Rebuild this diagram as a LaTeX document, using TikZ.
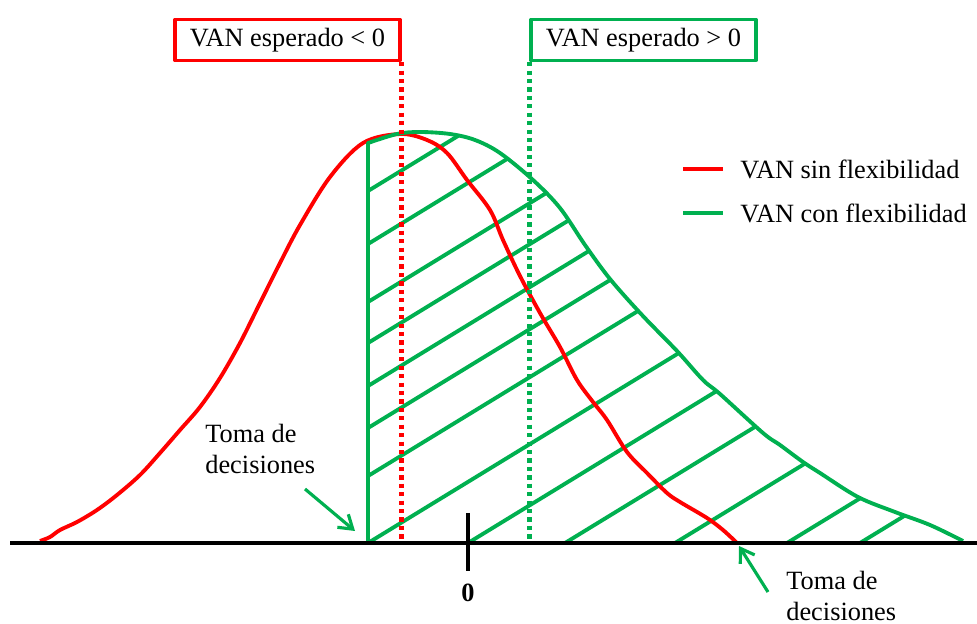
\documentclass[tikz,border=0pt]{standalone}
\usepackage{fontspec}
\setmainfont{Liberation Serif}
\usetikzlibrary{arrows.meta}
\definecolor{vanrojo}{RGB}{255,0,0}
\definecolor{vanverde}{RGB}{0,176,80}

\begin{document}
\begin{tikzpicture}[x=0.02cm, y=-0.02cm, font=\fontsize{15}{17.5}\selectfont, line join=round, >={Straight Barb[length=2.6mm,width=3.4mm]},
		curva/.style={line width=2.2pt},
		punteado/.style={line width=2.5pt, dash pattern=on 2.4pt off 2.4pt},
		caja/.style={draw, line width=1.8pt, minimum width=4.5cm, minimum height=0.82cm, inner sep=0pt},
		flecha/.style={->, vanverde, line width=1.8pt},
		texto/.style={align=left, anchor=north west, inner sep=0pt}]
	\useasboundingbox (0,0) rectangle (977,624);
	\path (10,543) coordinate (ejeI)
	(977,543) coordinate (ejeD)
	(368,543) coordinate (pared)
	(368,143) coordinate (paredT)
	(468,543) coordinate (cero)
	(305,489) coordinate (colaI)
	(355,531) coordinate (puntaI)
	(768,592) coordinate (colaD)
	(739,546) coordinate (puntaD);
	% rayado verde
	\begin{scope}
		\clip (pared) -- (paredT) -- plot[smooth, tension=0.55] coordinates {(368,143) (397,134) (420,132) (450,134) (475,140) (500,153) (533,180) (560,208) (585,245) (610,279) (642,315) (677,351) (703,380) (720,394) (763,433) (780,445) (803,462) (820,473) (858,497) (895,512) (930,525) (963,541)} -- cycle;
		\foreach \y in {191,244,302,343,386,428,476,543}
			\draw[curva, vanverde] (368,\y) -- ++(450,-275);
		\foreach \x in {468,565,675,787,860}
			\draw[curva, vanverde] (\x,543) -- ++(450,-275);
	\end{scope}
	% VAN sin flexibilidad
	\draw[curva, vanrojo] plot[smooth, tension=0.55] coordinates {(40,541) (50,537) (60,530) (77,522) (97,510) (117,495) (140,475) (160,453) (180,430) (200,407) (220,378) (240,343) (260,303) (280,263) (300,225) (330,177) (363,143) (400,134) (427,140) (447,153) (467,180) (490,210) (503,240) (520,276) (540,313) (560,347) (577,380) (593,402) (607,420) (627,452) (647,473) (667,493) (680,502) (707,518) (723,530) (737,543)};
	% VAN con flexibilidad
	\draw[curva, vanverde] (pared) -- (paredT) -- plot[smooth, tension=0.55] coordinates {(368,143) (397,134) (420,132) (450,134) (475,140) (500,153) (533,180) (560,208) (585,245) (610,279) (642,315) (677,351) (703,380) (720,394) (763,433) (780,445) (803,462) (820,473) (858,497) (895,512) (930,525) (963,541)};
	% cajas
	\node[caja, vanrojo, text=black] (esperadoNeg) at (287.5,40) {VAN esperado < 0};
	\node[caja, vanverde, text=black] (esperadoPos) at (643.5,40) {VAN esperado > 0};
	\draw[punteado, vanrojo] (esperadoNeg.south east) -- (esperadoNeg.south east |- ejeI);
	\draw[punteado, vanverde] (esperadoPos.south west) -- (esperadoPos.south west |- ejeI);
	% eje
	\draw[line width=2.6pt] (ejeI) -- (ejeD);
	\draw[line width=2.8pt] (468,513) -- (468,571);
	\node[font=\fontsize{15}{17.5}\selectfont\bfseries] (etqCero) at (468,593) {0};
	% leyenda
	\node[anchor=west, inner sep=0pt] (leySin) at (740,169) {VAN sin flexibilidad};
	\node[anchor=west, inner sep=0pt] (leyCon) at (740,213) {VAN con flexibilidad};
	\draw[curva, vanrojo] (683,169) -- (723,169);
	\draw[curva, vanverde] (683,213) -- (723,213);
	% toma de decisiones
	\node[texto] (tomaI) at (205,424) {Toma de\\decisiones};
	\node[texto] (tomaD) at (786,571) {Toma de\\decisiones};
	\draw[flecha] (colaI) -- (puntaI);
	\draw[flecha] (colaD) -- (puntaD);
\end{tikzpicture}
\end{document}
